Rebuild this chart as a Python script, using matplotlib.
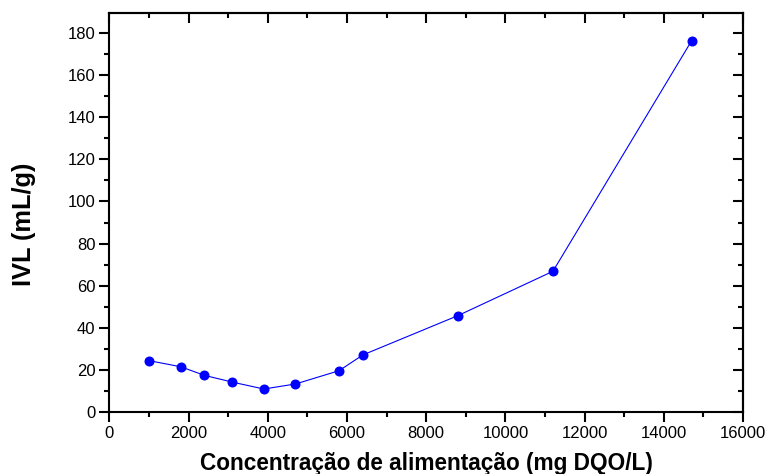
import matplotlib
matplotlib.use("Agg")
import matplotlib.pyplot as plt
from matplotlib.ticker import MultipleLocator

plt.rcParams['font.family'] = ['Liberation Sans', 'DejaVu Sans']

concentracao = [1000, 1800, 2400, 3100, 3900, 4700, 5800, 6400, 8800, 11200, 14700]
ivl = [24.3, 21.4, 17.3, 14.1, 10.8, 13.2, 19.5, 27.0, 45.7, 66.8, 176.4]

fig = plt.figure(figsize=(7.7, 4.74), dpi=100)
ax = fig.add_axes([0.142, 0.1314, 0.823, 0.8405])

ax.plot(concentracao, ivl, color='#0000ff', lw=0.8, marker='o', ms=6.2,
        markerfacecolor='#0000ff', markeredgecolor='#0000ff', clip_on=False)

ax.set_xlim(0, 16000)
ax.set_ylim(0, 189.5)
ax.xaxis.set_major_locator(MultipleLocator(2000))
ax.xaxis.set_minor_locator(MultipleLocator(1000))
ax.yaxis.set_major_locator(MultipleLocator(20))
ax.yaxis.set_minor_locator(MultipleLocator(10))

for s in ax.spines.values():
    s.set_linewidth(1.5)

ax.tick_params(which='major', direction='out', length=7, width=1.5, labelsize=12, pad=3)
ax.tick_params(which='minor', direction='out', length=3.5, width=1.5)

secx = ax.secondary_xaxis('top')
secx.xaxis.set_major_locator(MultipleLocator(2000))
secx.xaxis.set_minor_locator(MultipleLocator(1000))
secx.tick_params(which='major', direction='in', length=7, width=1.5, labeltop=False)
secx.tick_params(which='minor', direction='in', length=3.5, width=1.5)
secx.spines['top'].set_linewidth(1.5)

secy = ax.secondary_yaxis('right')
secy.yaxis.set_major_locator(MultipleLocator(20))
secy.yaxis.set_minor_locator(MultipleLocator(10))
secy.tick_params(which='major', direction='in', length=7, width=1.5, labelright=False)
secy.tick_params(which='minor', direction='in', length=3.5, width=1.5)
secy.spines['right'].set_linewidth(1.5)

ax.set_xlabel('Concentração de alimentação (mg DQO/L)', fontsize=16.3, fontweight='bold', labelpad=8)
ax.set_ylabel('IVL (mL/g)', fontsize=18.3, fontweight='bold', labelpad=23)
ax.yaxis.label.set_y(0.47)

fig.savefig('out.png', dpi=100)
